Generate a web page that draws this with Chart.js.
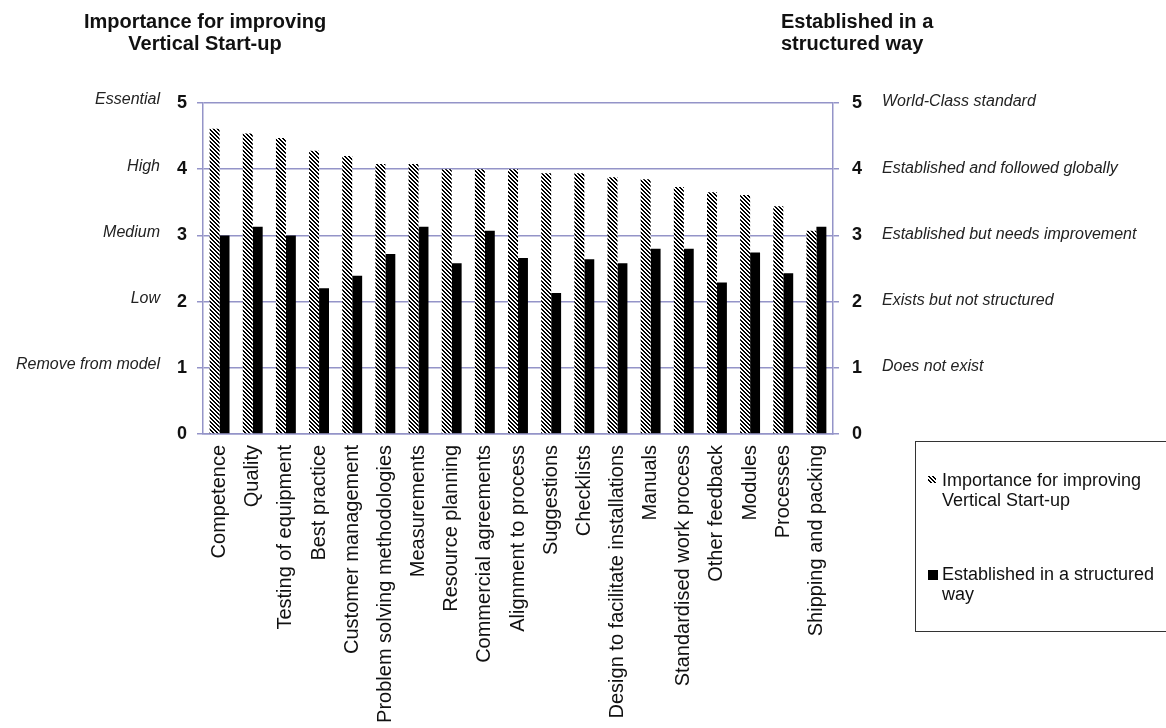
<!DOCTYPE html>
<html>
<head>
<meta charset="utf-8">
<script src="https://cdn.jsdelivr.net/npm/chart.js@4.4.1/dist/chart.umd.min.js"></script>
<style>
  body { margin: 0; background: #fff; font-family: "Liberation Sans", Arial, sans-serif; color: #111; }
  #wrap { position: relative; width: 1166px; height: 728px; overflow: hidden; }
  #chart { position: absolute; left: 0; top: 0; }
  .title { position: absolute; font-weight: bold; font-size: 20px; line-height: 22px; }
  #titleLeft { left: 55px; top: 10px; width: 300px; text-align: center; }
  #titleRight { left: 781px; top: 10px; }
  #legend { position: absolute; left: 915px; top: 441px; width: 270px; height: 189px; border: 1.5px solid #333; }
  .item { position: absolute; left: 26px; font-size: 18px; line-height: 20px; }
  .item canvas, .item span.box { position: absolute; left: -14px; top: 6px; }
  span.box { width: 10px; height: 10px; background: #000; display: block; }
</style>
</head>
<body>
<div id="wrap">
  <canvas id="chart" width="1166" height="728"></canvas>
  <div class="title" id="titleLeft">Importance for improving<br>Vertical Start-up</div>
  <div class="title" id="titleRight">Established in a<br>structured way</div>
  <div id="legend">
    <div class="item" style="top:28px"><canvas id="swatch" width="8" height="7"></canvas>Importance for improving<br>Vertical Start-up</div>
    <div class="item" style="top:122px"><span class="box"></span>Established in a structured<br>way</div>
  </div>
</div>
<script>
// data
const categories = ["Competence", "Quality", "Testing of equipment", "Best practice",
  "Customer management", "Problem solving methodologies", "Measurements", "Resource planning",
  "Commercial agreements", "Alignment to process", "Suggestions", "Checklists",
  "Design to facilitate installations", "Manuals", "Standardised work process",
  "Other feedback", "Modules", "Processes", "Shipping and packing"];
const importance = [4.61, 4.54, 4.47, 4.28, 4.20, 4.08, 4.08, 4.00, 4.00, 4.00,
  3.94, 3.94, 3.88, 3.85, 3.73, 3.65, 3.61, 3.44, 3.07];
const established = [3.00, 3.13, 3.00, 2.20, 2.39, 2.72, 3.13, 2.58, 3.07, 2.66,
  2.13, 2.64, 2.58, 2.80, 2.80, 2.29, 2.74, 2.43, 3.13];
const levelValues = [1, 2, 3, 4, 5];
const importanceLevels = ["Remove from model", "Low", "Medium", "High", "Essential"];
const structuredLevels = ["Does not exist", "Exists but not structured",
  "Established but needs improvement", "Established and followed globally", "World-Class standard"];

const gridColor = "#9494c8";
const fontFamily = '"Liberation Sans", Arial, sans-serif';

//hatch pattern for the importance bars
function makeHatch(ctx) {
  const c = document.createElement("canvas");
  c.width = 4; c.height = 4;
  const p = c.getContext("2d");
  p.fillStyle = "#fff";
  p.fillRect(0, 0, 4, 4);
  p.fillStyle = "#000";
  for (let y = 0; y < 4; y++) {
    for (let x = 0; x < 4; x++) {
      if ((x - y + 4) % 4 < 2) p.fillRect(x, y, 1, 1);
    }
  }
  return ctx.createPattern(c, "repeat");
}

const swatch = document.getElementById("swatch").getContext("2d");
swatch.fillStyle = makeHatch(swatch);
swatch.fillRect(0, 0, 8, 7);

/**italic level names beside the two axes */
const sideLabels = {
  id: "sideLabels",
  afterDraw(chart) {
    const ctx = chart.ctx;
    const left = chart.scales.y;
    const right = chart.scales.y2;
    ctx.save();
    ctx.font = "italic 16px " + fontFamily;
    ctx.fillStyle = "#222";
    ctx.textBaseline = "middle";
    ctx.textAlign = "right";
    levelValues.forEach((v, i) => {
      ctx.fillText(importanceLevels[i], 160, left.getPixelForValue(v) - 3);
    });
    ctx.textAlign = "left";
    levelValues.forEach((v, i) => {
      ctx.fillText(structuredLevels[i], 882, right.getPixelForValue(v) - 1);
    });
    ctx.restore();
  }
};

const chartCtx = document.getElementById("chart").getContext("2d");
Chart.defaults.font.family = fontFamily;
Chart.defaults.color = "#111";

new Chart(chartCtx, {
  type: "bar",
  data: {
    labels: categories,
    datasets: [
      {
        label: "Importance for improving Vertical Start-up",
        data: importance,
        backgroundColor: makeHatch(chartCtx),
        borderWidth: 0,
        yAxisID: "y",
      },
      {
        label: "Established in a structured way",
        data: established,
        backgroundColor: "#000",
        borderWidth: 0,
        yAxisID: "y",
      },
    ],
  },
  options: {
    responsive: false,
    animation: false,
    categoryPercentage: 0.6,
    barPercentage: 1.0,
    layout: { padding: { top: 103, left: 0, right: 0, bottom: 0 } },
    plugins: { legend: { display: false }, tooltip: { enabled: false } },
    scales: {
      x: {
        grid: { display: false, drawTicks: false },
        border: { display: true, color: gridColor, width: 1.5 },
        ticks: {
          autoSkip: false, minRotation: 90, maxRotation: 90, padding: 11,
          font: { size: 20 }, color: "#111",
        },
        afterFit: (scale) => { scale.height = 294; },
      },
      y: {
        position: "left",
        min: 0, max: 5,
        grid: { color: gridColor, lineWidth: 1.5, tickLength: 6 },
        border: { display: true, color: gridColor, width: 1.5 },
        ticks: { stepSize: 1, padding: 10, font: { size: 18, weight: "bold" }, color: "#111" },
        afterFit: (scale) => { scale.width = 203; },
      },
      y2: {
        position: "right",
        min: 0, max: 5,
        grid: { drawOnChartArea: false, color: gridColor, lineWidth: 1.5, tickLength: 6 },
        border: { display: true, color: gridColor, width: 1.5 },
        ticks: { stepSize: 1, padding: 13, font: { size: 18, weight: "bold" }, color: "#111" },
        afterFit: (scale) => { scale.width = 333; },
      },
    },
  },
  plugins: [sideLabels],
});
</script>
</body>
</html>
